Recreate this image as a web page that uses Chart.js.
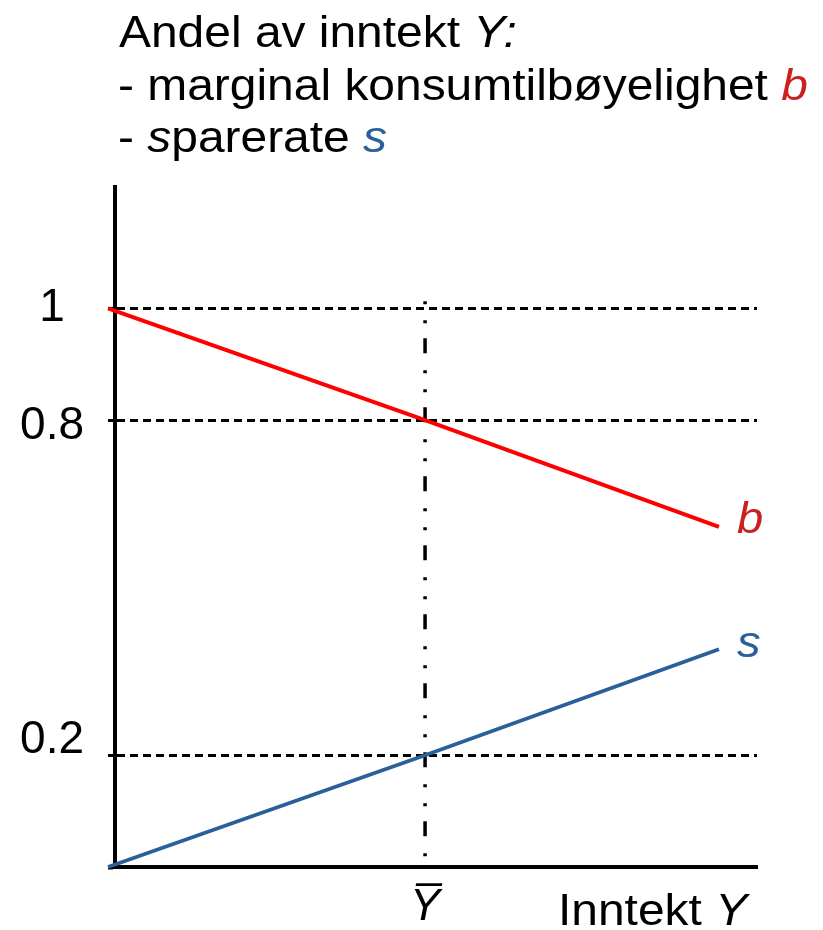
<!DOCTYPE html>
<html>
<head>
<meta charset="utf-8">
<script src="https://cdn.jsdelivr.net/npm/chart.js@4/dist/chart.umd.min.js"></script>
<style>
html,body{margin:0;padding:0;background:#fff;}
canvas{display:block;background:#fff;}
</style>
</head>
<body>
<canvas id="c" width="823" height="930"></canvas>
<script>
// ---- data ----
const incomeX = [0, 1, 1.927];           // income Y (Ybar = 1)
const consumptionB = [1, 0.8, 0.609];     // marginal konsumtilbøyelighet b
const savingS = [0, 0.2, 0.39];           // sparerate s
const yTickValues = [0, 0.2, 0.8, 1];
const yTickLabels = ['', '0.2', '0.8', '1'];
const xTickValues = [1];
const xTickLabels = ['Y\u0305'];
const ybarLineX = [1, 1];
const ybarLineY = [1.013, 0.018];
const titleLine1 = [['Andel av inntekt ', false, '#000'], ['Y:', true, '#000']];
const titleLine2 = [['- marginal konsumtilbøyelighet ', false, '#000'], ['b', true, '#c9211e']];
const titleLine3 = [['- ', false, '#000'], ['s', true, '#000'], ['parerate ', false, '#000'], ['s', true, '#2a6099']];
const xAxisTitle = [['Inntekt ', false, '#000'], ['Y', true, '#000']];
const seriesLabelB = 'b';
const seriesLabelS = 's';

// ---- styling ----
const FONT = '"Liberation Sans", Arial, sans-serif';
const FS = 45;
const RED = '#ff0000', RED_TXT = '#c9211e', BLUE = '#2a6099';
const yLabelShift = {0.2: -15, 0.8: 6};
const GRID_DASH = [8, 5];

function tickLabel(v) {
  const i = yTickValues.indexOf(v);
  const t = i >= 0 ? yTickLabels[i] : '';
  const sh = yLabelShift[v] || 0;
  if (sh < 0) return [t, ''];
  if (sh > 0) return ['', t];
  return t;
}
function tickFont(c) {
  const v = c && c.tick ? c.tick.value : null;
  const sh = v !== null ? (yLabelShift[v] || 0) : 0;
  return {family: FONT, size: 46, lineHeight: sh ? (Math.abs(sh) * 2) + 'px' : 1.2};
}
function isZeroTick(c) { return c && c.tick && c.tick.value === 0; }

function drawRuns(ctx, runs, x, y, sx) {
  ctx.save();
  ctx.translate(x, y);
  ctx.scale(sx, 1);
  ctx.textBaseline = 'alphabetic';
  ctx.textAlign = 'left';
  let cx = 0;
  for (const [t, it, col] of runs) {
    ctx.font = (it ? 'italic ' : '') + FS + 'px ' + FONT;
    ctx.fillStyle = col;
    ctx.fillText(t, cx, 0);
    cx += ctx.measureText(t).width;
  }
  ctx.restore();
}

const textPlugin = {
  id: 'richText',
  afterDraw(chart) {
    const ctx = chart.ctx;
    const sx = 1.065;
    drawRuns(ctx, titleLine1, 119, 47, sx);
    drawRuns(ctx, titleLine2, 118, 100, sx);
    drawRuns(ctx, titleLine3, 118, 152, sx);
    drawRuns(ctx, xAxisTitle, 558, 925, sx);
    const xs = chart.scales.x, ys = chart.scales.y;
    const n = incomeX.length - 1;
    const px = xs.getPixelForValue(incomeX[n]);
    drawRuns(ctx, [[seriesLabelB, true, RED_TXT]], px + 18, ys.getPixelForValue(consumptionB[n]) + 6, 1.05);
    drawRuns(ctx, [[seriesLabelS, true, BLUE]], px + 18, ys.getPixelForValue(savingS[n]) + 8, 1.05);
  }
};

new Chart(document.getElementById('c'), {
  type: 'scatter',
  data: {
    datasets: [
      {
        label: 'b',
        data: incomeX.map((x, i) => ({x: x, y: consumptionB[i]})),
        showLine: true, borderColor: RED, borderWidth: 4, pointRadius: 0, clip: false, tension: 0
      },
      {
        label: 's',
        data: incomeX.map((x, i) => ({x: x, y: savingS[i]})),
        showLine: true, borderColor: BLUE, borderWidth: 3.8, pointRadius: 0, clip: false, tension: 0
      },
      {
        label: 'Ybar',
        data: ybarLineX.map((x, i) => ({x: x, y: ybarLineY[i]})),
        showLine: true, borderColor: '#000', borderWidth: 3.5, pointRadius: 0, clip: false,
        borderDash: [3, 16, 3, 15, 15, 17]
      }
    ]
  },
  options: {
    responsive: false,
    animation: false,
    devicePixelRatio: 1,
    layout: {padding: {top: 187, right: 66, bottom: 0, left: 0}},
    plugins: {legend: {display: false}, tooltip: {enabled: false}, title: {display: false}},
    scales: {
      x: {
        type: 'linear', position: 'bottom', min: 0.022, max: 2.047,
        afterFit: s => { s.height = 63; },
        afterBuildTicks: s => { s.ticks = xTickValues.map(v => ({value: v})); },
        border: {display: true, color: '#000', width: 4},
        grid: {display: false, drawTicks: false},
        ticks: {
          autoSkip: false, maxRotation: 0, padding: 13, color: '#000',
          font: {family: FONT, size: FS, style: 'italic'},
          callback: v => { const i = xTickValues.indexOf(v); return i >= 0 ? xTickLabels[i] : ''; }
        }
      },
      y: {
        type: 'linear', position: 'left', min: 0, max: 1.2175,
        afterFit: s => { s.width = 115; },
        afterBuildTicks: s => { s.ticks = yTickValues.map(v => ({value: v})); },
        border: {
          display: true, color: '#000', width: 4,
          dash: c => isZeroTick(c) || !c.tick ? [] : GRID_DASH
        },
        grid: {
          display: true, drawOnChartArea: true, drawTicks: true, tickLength: 7,
          color: c => isZeroTick(c) ? 'rgba(0,0,0,0)' : '#000',
          lineWidth: 3,
          tickColor: '#000', tickWidth: c => isZeroTick(c) ? 4 : 3,
          tickBorderDash: c => isZeroTick(c) ? [] : GRID_DASH
        },
        ticks: {
          autoSkip: false, padding: 24, crossAlign: 'center', color: '#000',
          font: tickFont,
          callback: v => tickLabel(v)
        }
      }
    }
  },
  plugins: [textPlugin]
});
</script>
</body>
</html>
